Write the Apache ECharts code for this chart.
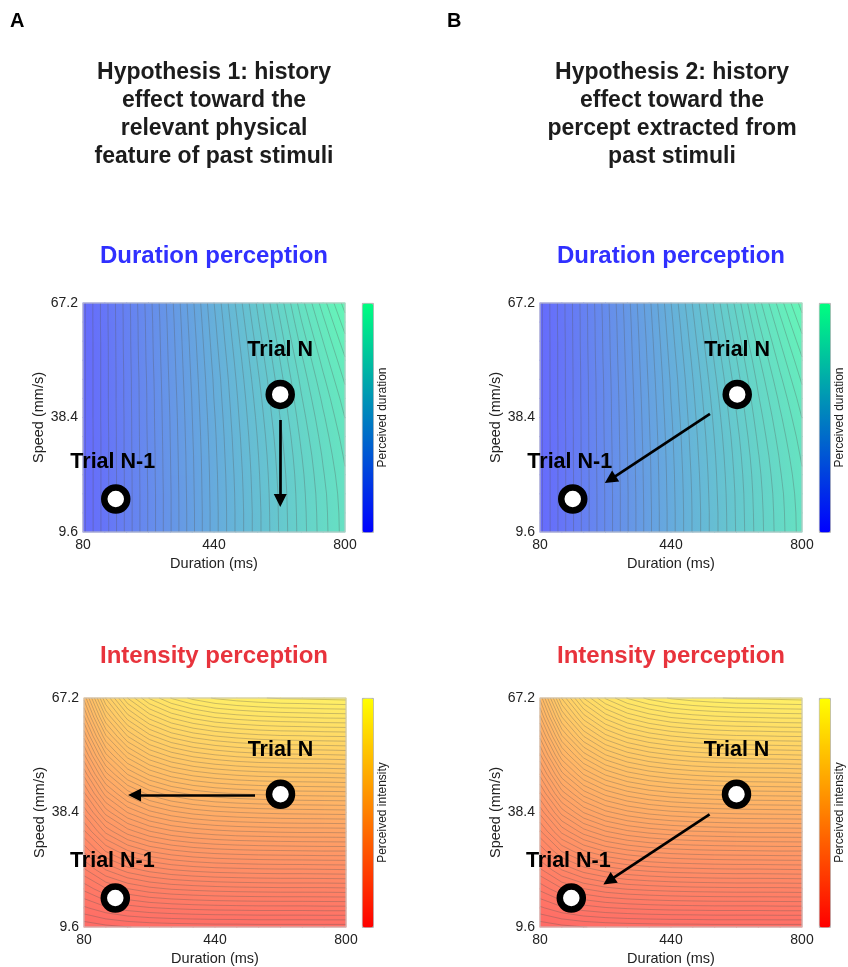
<!DOCTYPE html>
<html><head><meta charset="utf-8">
<script src="https://cdn.jsdelivr.net/npm/echarts@6/dist/echarts.min.js"></script>
<style>html,body{margin:0;padding:0;background:#fff}#c{width:848px;height:967px}</style>
</head><body><div id="c"></div>
<script>
// ---------- data ----------
const durationTicks = [80, 440, 800];
const speedTicks = [9.6, 38.4, 67.2];
const durationSamples = [80, 140, 200, 260, 320, 380, 440, 500, 560, 620, 680, 740, 800];
const speedSamples = [9.6, 14.4, 19.2, 24, 28.8, 33.6, 38.4, 43.2, 48, 52.8, 57.6, 62.4, 67.2];
// rows: speedSamples (bottom -> top), columns: durationSamples (normalised colour value 0..1)
const perceivedDuration = [
  [.030,.100,.170,.240,.310,.380,.450,.515,.578,.640,.700,.752,.800],
  [.030,.100,.170,.240,.310,.380,.450,.515,.578,.641,.701,.753,.801],
  [.030,.100,.170,.240,.310,.381,.451,.516,.580,.642,.703,.755,.804],
  [.030,.100,.170,.241,.311,.382,.452,.518,.582,.645,.706,.760,.809],
  [.030,.100,.171,.241,.312,.383,.454,.521,.585,.649,.711,.766,.817],
  [.030,.100,.171,.242,.313,.385,.456,.524,.589,.654,.718,.774,.826],
  [.030,.101,.171,.243,.314,.387,.459,.528,.594,.661,.726,.783,.838],
  [.030,.101,.172,.243,.316,.389,.463,.532,.600,.668,.735,.794,.851],
  [.030,.101,.172,.244,.318,.392,.466,.537,.607,.676,.745,.807,.867],
  [.030,.101,.173,.246,.320,.395,.471,.543,.615,.686,.757,.822,.884],
  [.030,.101,.174,.247,.322,.398,.476,.550,.623,.697,.771,.838,.904],
  [.030,.102,.174,.248,.324,.402,.481,.557,.633,.709,.786,.856,.926],
  [.030,.102,.175,.250,.327,.406,.487,.565,.643,.722,.802,.876,.950]
];
const perceivedIntensity = [
  [.030,.037,.042,.045,.047,.048,.049,.049,.050,.050,.050,.050,.050],
  [.073,.090,.102,.109,.113,.116,.118,.119,.120,.120,.120,.121,.121],
  [.115,.143,.161,.173,.180,.184,.187,.189,.190,.191,.191,.191,.192],
  [.158,.196,.221,.236,.246,.252,.256,.258,.260,.261,.261,.262,.263],
  [.200,.249,.280,.300,.312,.320,.325,.328,.330,.331,.332,.333,.333],
  [.243,.302,.340,.364,.379,.388,.394,.398,.400,.402,.403,.403,.404],
  [.285,.355,.400,.428,.445,.456,.463,.467,.470,.472,.473,.474,.475],
  [.328,.408,.459,.491,.511,.524,.532,.537,.540,.543,.544,.545,.546],
  [.370,.461,.519,.555,.578,.592,.601,.607,.611,.613,.614,.615,.617],
  [.413,.514,.578,.619,.644,.660,.670,.677,.681,.683,.685,.686,.688],
  [.455,.567,.638,.683,.711,.728,.739,.746,.751,.754,.755,.757,.758],
  [.498,.620,.697,.746,.777,.796,.809,.816,.821,.824,.826,.828,.829],
  [.540,.673,.757,.810,.843,.864,.878,.886,.891,.895,.896,.898,.900]
];
const trialNDurationPanel = [622, 44.2];
const trialPrevDurationPanel = [170, 17.9];
const trialNIntensityPanel = [620, 43.0];
const trialPrevIntensityPanel = [166, 16.9];
const arrowH1Duration = [[622, 37.8], [622, 17.5]];
const arrowH2Duration = [[547, 39.3], [273, 22.8]];
const arrowH1Intensity = [[550, 42.8], [219, 42.8]];
const arrowH2Intensity = [[546, 37.9], [269, 21.2]];
const trialNames = ['Trial N', 'Trial N-1'];

// ---------- helpers ----------
const FONT = "'Liberation Sans', Arial, Helvetica, sans-serif";
const xMin = durationTicks[0], xMax = durationTicks[durationTicks.length - 1];
const yMin = speedTicks[0], yMax = speedTicks[speedTicks.length - 1];

function lerpColor(v, colors) {
  v = Math.max(0, Math.min(1, v));
  if (echarts.color && echarts.color.lerp) return echarts.color.lerp(v, colors);
  const p = colors.map(c => [1, 3, 5].map(k => parseInt(c.substr(k, 2), 16)));
  const r = p[0].map((a, k) => Math.round(a + (p[1][k] - a) * v));
  return 'rgb(' + r.join(',') + ')';
}
// one shaded cell between each four neighbouring samples
function cellData(Z) {
  const xs = durationSamples, ys = speedSamples, out = [];
  for (let j = 0; j < ys.length - 1; j++)
    for (let i = 0; i < xs.length - 1; i++)
      out.push([xs[i], ys[j], xs[i+1], ys[j+1], Z[j][i], Z[j][i+1], Z[j+1][i+1], Z[j+1][i]]);
  return out;
}
function contourSegments(Z, levels) {
  const xs = durationSamples, ys = speedSamples, segs = [];
  for (let j = 0; j < ys.length - 1; j++) for (let i = 0; i < xs.length - 1; i++) {
    const c = [[xs[i], ys[j], Z[j][i]], [xs[i+1], ys[j], Z[j][i+1]], [xs[i+1], ys[j+1], Z[j+1][i+1]], [xs[i], ys[j+1], Z[j+1][i]]];
    for (const L of levels) {
      const pts = [];
      for (let e = 0; e < 4; e++) {
        const p = c[e], q = c[(e + 1) % 4];
        if ((p[2] < L) !== (q[2] < L)) {
          const t = (L - p[2]) / (q[2] - p[2]);
          pts.push([p[0] + t * (q[0] - p[0]), p[1] + t * (q[1] - p[1])]);
        }
      }
      if (pts.length === 2) segs.push([pts[0][0], pts[0][1], pts[1][0], pts[1][1], L]);
      else if (pts.length === 4) {
        segs.push([pts[0][0], pts[0][1], pts[1][0], pts[1][1], L]);
        segs.push([pts[2][0], pts[2][1], pts[3][0], pts[3][1], L]);
      }
    }
  }
  return segs;
}
function levelList(step) { const a = []; for (let v = step / 2; v < 1; v += step) a.push(v); return a; }

const panels = [
  { left: 83, top: 303, Z: perceivedDuration, step: 0.025, arrow: arrowH1Duration, pN: trialNDurationPanel, pP: trialPrevDurationPanel,
    cbLeft: 362, cbLabel: 'Perceived duration', full: ['#0000ff', '#00ff80'], blend: ['#6666ff', '#66ffb3'] },
  { left: 540, top: 303, Z: perceivedDuration, step: 0.025, arrow: arrowH2Duration, pN: trialNDurationPanel, pP: trialPrevDurationPanel,
    cbLeft: 819, cbLabel: 'Perceived duration', full: ['#0000ff', '#00ff80'], blend: ['#6666ff', '#66ffb3'] },
  { left: 84, top: 698, Z: perceivedIntensity, step: 0.017, arrow: arrowH1Intensity, pN: trialNIntensityPanel, pP: trialPrevIntensityPanel,
    cbLeft: 362, cbLabel: 'Perceived intensity', full: ['#ff0000', '#ffff00'], blend: ['#ff6666', '#ffff66'] },
  { left: 540, top: 698, Z: perceivedIntensity, step: 0.017, arrow: arrowH2Intensity, pN: trialNIntensityPanel, pP: trialPrevIntensityPanel,
    cbLeft: 819, cbLabel: 'Perceived intensity', full: ['#ff0000', '#ffff00'], blend: ['#ff6666', '#ffff66'] }
];
const PW = 262, PH = 229;

const grid = [], xAxis = [], yAxis = [], series = [], visualMap = [], graphic = [];
panels.forEach((p, k) => {
  grid.push({ left: p.left, top: p.top, width: PW, height: PH, show: true, z: 3,
    backgroundColor: 'rgba(0,0,0,0)', borderColor: '#c4c4c4', borderWidth: 1 });
  xAxis.push({ gridIndex: k, type: 'value', min: xMin, max: xMax,
    name: 'Duration (ms)', nameLocation: 'middle', nameGap: 24,
    nameTextStyle: { fontSize: 14.5, color: '#222', fontFamily: FONT },
    axisLine: { show: false }, axisTick: { show: false }, splitLine: { show: false },
    axisLabel: { customValues: durationTicks, fontSize: 14, color: '#222', margin: 6, fontFamily: FONT, formatter: v => String(v) } });
  yAxis.push({ gridIndex: k, type: 'value', min: yMin, max: yMax,
    name: 'Speed (mm/s)', nameLocation: 'middle', nameGap: 34,
    nameTextStyle: { fontSize: 14.5, color: '#222', fontFamily: FONT },
    axisLine: { show: false }, axisTick: { show: false }, splitLine: { show: false },
    axisLabel: { customValues: speedTicks, fontSize: 14, color: '#222', margin: 5, fontFamily: FONT, formatter: v => v.toFixed(1) } });

  const cmap = p.blend;
  // shaded surface (colour interpolated across each cell from its corner samples)
  series.push({ type: 'custom', xAxisIndex: k, yAxisIndex: k, z: 1, silent: true,
    encode: { x: [0, 2], y: [1, 3] }, data: cellData(p.Z),
    renderItem: (params, api) => {
      const x0 = api.value(0), y0 = api.value(1), x1 = api.value(2), y1 = api.value(3);
      const a = api.value(4), b = api.value(5), c = api.value(6), d = api.value(7);
      const P = api.coord([x0, y1]), Q = api.coord([x1, y0]);
      const W = Q[0] - P[0], H = Q[1] - P[1];
      const m = (a + b + c + d) / 4, gx = ((b - a) + (c - d)) / 2, gy = ((d - a) + (c - b)) / 2;
      const Gx = gx / W, Gy = -gy / H, G = Math.hypot(Gx, Gy);
      let fill;
      if (G < 1e-9) fill = lerpColor(m, cmap);
      else {
        const nx = Gx / G, ny = Gy / G, h = (W * Math.abs(nx) + H * Math.abs(ny)) / 2;
        const cx = P[0] + W / 2, cy = P[1] + H / 2;
        fill = { type: 'linear', global: true, x: cx - nx * h, y: cy - ny * h, x2: cx + nx * h, y2: cy + ny * h,
          colorStops: [{ offset: 0, color: lerpColor(m - G * h, cmap) }, { offset: 1, color: lerpColor(m + G * h, cmap) }] };
      }
      return { type: 'rect', shape: { x: P[0] - 0.5, y: P[1] - 0.5, width: W + 1, height: H + 1 }, style: { fill: fill } };
    } });
  // contour lines
  series.push({ type: 'custom', xAxisIndex: k, yAxisIndex: k, z: 2, silent: true,
    encode: { x: [0, 2], y: [1, 3] }, data: contourSegments(p.Z, levelList(p.step)),
    renderItem: (params, api) => {
      const a = api.coord([api.value(0), api.value(1)]), b = api.coord([api.value(2), api.value(3)]);
      return { type: 'line', shape: { x1: a[0], y1: a[1], x2: b[0], y2: b[1] },
        style: { stroke: 'rgba(85,85,85,0.45)', lineWidth: 0.7 } };
    } });
  // arrow
  series.push({ type: 'lines', coordinateSystem: 'cartesian2d', xAxisIndex: k, yAxisIndex: k, z: 4, silent: true,
    symbol: ['none', 'triangle'], symbolSize: [15, 13],
    lineStyle: { color: '#000', width: 2.7, opacity: 1 },
    data: [{ coords: p.arrow }] });
  // trial points
  series.push({ type: 'scatter', xAxisIndex: k, yAxisIndex: k, z: 5, silent: true,
    symbol: 'circle', symbolSize: 23,
    itemStyle: { color: '#fff', borderColor: '#000', borderWidth: 6.5, opacity: 1 },
    label: { show: true, position: 'inside', formatter: '{b}', fontSize: 21.5, fontWeight: 'bold', color: '#000', fontFamily: FONT },
    data: [
      { name: trialNames[0], value: p.pN, label: { offset: [0, -44] } },
      { name: trialNames[1], value: p.pP, label: { offset: [-3, -37] } }
    ] });

  visualMap.push({ type: 'continuous', show: true, seriesIndex: 4 * k + 1, dimension: 4, min: 0, max: 1,
    orient: 'vertical', left: p.cbLeft, top: p.top, itemWidth: 11, itemHeight: PH, calculable: false,
    padding: 0, borderColor: '#9a9a9a', borderWidth: 0.8, hoverLink: false, text: null,
    inRange: { color: p.full } });
  graphic.push({ type: 'text', x: p.cbLeft + 21, y: p.top + PH / 2, rotation: Math.PI / 2, silent: true,
    style: { text: p.cbLabel, align: 'center', verticalAlign: 'middle', textAlign: 'center', textVerticalAlign: 'middle',
      font: '12px ' + FONT, fill: '#222' } });
});

function txt(x, y, text, font, fill, va, lh) {
  return { type: 'text', x: x, y: y, silent: true,
    style: { text: text, align: 'center', verticalAlign: va, textAlign: 'center', textVerticalAlign: va,
      font: font, fill: fill, lineHeight: lh } };
}
graphic.push({ type: 'text', x: 10, y: 11, silent: true, style: { text: 'A', font: 'bold 20px ' + FONT, fill: '#000', verticalAlign: 'top', textVerticalAlign: 'top' } });
graphic.push({ type: 'text', x: 447, y: 11, silent: true, style: { text: 'B', font: 'bold 20px ' + FONT, fill: '#000', verticalAlign: 'top', textVerticalAlign: 'top' } });
graphic.push(txt(214, 59, 'Hypothesis 1: history\neffect toward the\nrelevant physical\nfeature of past stimuli', 'bold 23px ' + FONT, '#1c1c1c', 'top', 28));
graphic.push(txt(672, 59, 'Hypothesis 2: history\neffect toward the\npercept extracted from\npast stimuli', 'bold 23px ' + FONT, '#1c1c1c', 'top', 28));
graphic.push(txt(214, 256, 'Duration perception', 'bold 24px ' + FONT, '#3030ff', 'middle', 28));
graphic.push(txt(671, 256, 'Duration perception', 'bold 24px ' + FONT, '#3030ff', 'middle', 28));
graphic.push(txt(214, 656, 'Intensity perception', 'bold 24px ' + FONT, '#e8333c', 'middle', 28));
graphic.push(txt(671, 656, 'Intensity perception', 'bold 24px ' + FONT, '#e8333c', 'middle', 28));

const chart = echarts.init(document.getElementById('c'), null, { renderer: 'canvas' });
chart.setOption({
  animation: false,
  backgroundColor: '#fff',
  textStyle: { fontFamily: FONT },
  grid, xAxis, yAxis, visualMap, series, graphic
});
</script>
</body></html>
